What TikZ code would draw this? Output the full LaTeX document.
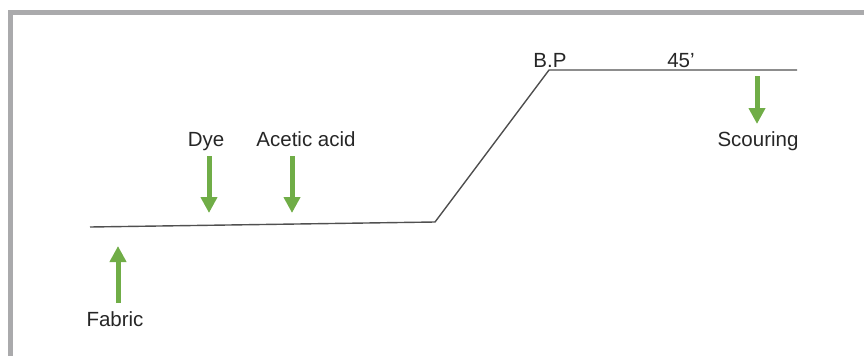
\documentclass[tikz,border=0pt]{standalone}
\usepackage{fontspec}
\setmainfont{Liberation Sans}
\usetikzlibrary{arrows.meta}
\definecolor{framegray}{RGB}{170,170,172}
\definecolor{arrowgreen}{RGB}{112,173,71}
\definecolor{curvegray}{RGB}{80,80,80}
\begin{document}
\begin{tikzpicture}[x=1pt,y=-1pt,
  lbl/.style={font=\fontsize{20.5}{24}\selectfont, text=black!85, inner sep=0pt, anchor=base},
  greenarrow/.style={draw=arrowgreen, line width=5pt, -{Triangle[length=16pt,width=16pt]}},
  profile/.style={draw=curvegray, line width=1.4pt, line join=miter}]
\useasboundingbox (0,0) rectangle (864,356);
\fill[framegray] (8,10) rectangle (864,15);
\fill[framegray] (8,10) rectangle (13,356);

% temperature profile
\coordinate (start) at (90,227);
\coordinate (rampbot) at (435,222);
\coordinate (ramptop) at (549,70);
\coordinate (finish) at (797,70);
\draw[profile] (start) -- (rampbot) -- (ramptop) -- (finish);

% labels
\node[lbl] (dye) at (206,146) {Dye};
\node[lbl] (acid) at (306,146) {Acetic acid};
\node[lbl] (fabric) at (115,326) {Fabric};
\node[lbl] (scour) at (758,146) {Scouring};
\node[lbl] (bp) at (550,67) {B.P};
\node[lbl] (time) at (681,67) {45’};

% arrows
\coordinate (dyeA) at (209,156);
\coordinate (dyeB) at (209,213);
\coordinate (acidA) at (292,156);
\coordinate (acidB) at (292,213);
\coordinate (fabA) at (118,303);
\coordinate (fabB) at (118,246);
\coordinate (scA) at (757,76);
\coordinate (scB) at (757,124);
\draw[greenarrow] (dyeA) -- (dyeB);
\draw[greenarrow] (acidA) -- (acidB);
\draw[greenarrow] (fabA) -- (fabB);
\draw[greenarrow] (scA) -- (scB);
\end{tikzpicture}
\end{document}
